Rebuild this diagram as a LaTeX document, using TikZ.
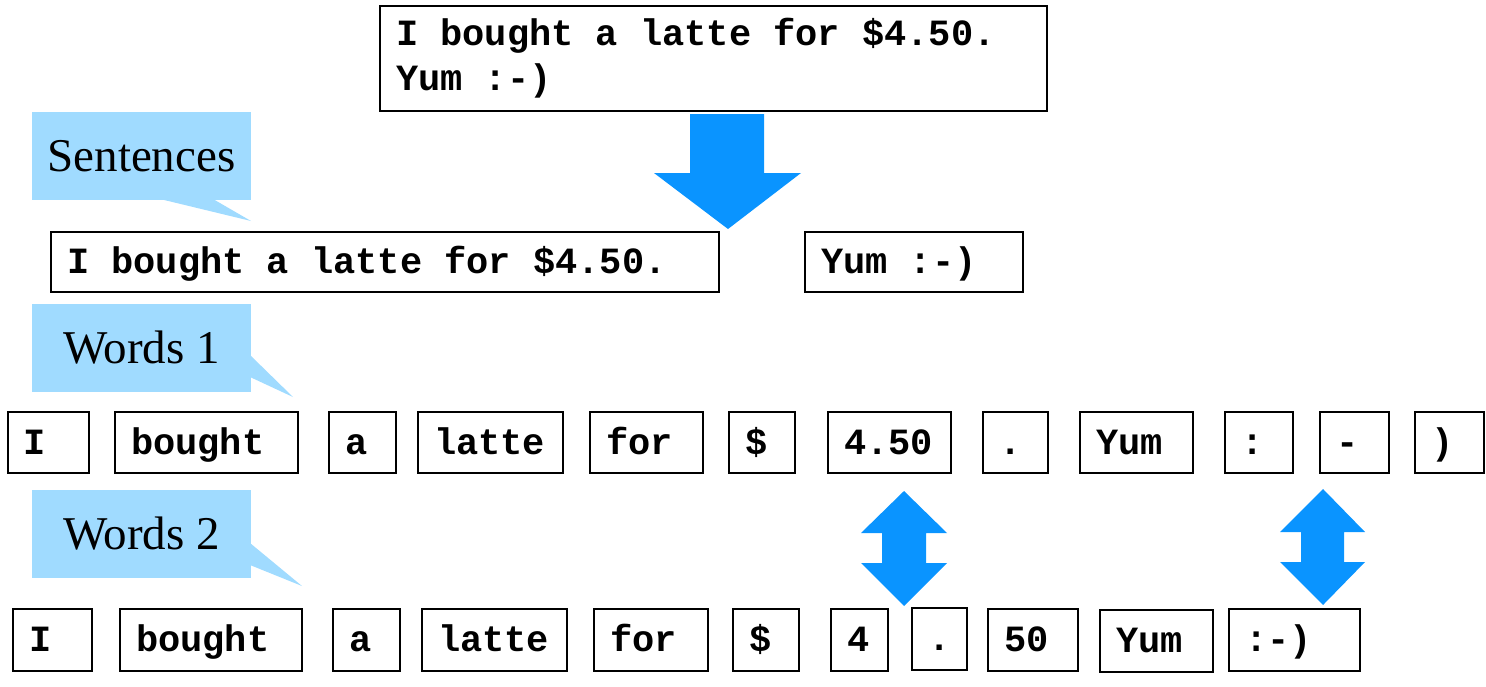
\documentclass[tikz,border=0pt]{standalone}
\usepackage{fontspec}
\setmainfont{Liberation Serif}
\newfontfamily\monofont{Liberation Mono}
\newcommand\monosetup{\monofont\bfseries\fontsize{18.5}{22.5}\selectfont}
\newcommand\fixsp{\spaceskip=0.6em plus 0pt minus 0pt\xspaceskip=0.6em plus 0pt minus 0pt\relax}
\definecolor{arrowblue}{RGB}{10,148,255}
\definecolor{calloutblue}{RGB}{160,219,255}
\begin{document}
\begin{tikzpicture}[x=0.5pt,y=-0.5pt,
  wb/.style={draw=black, line width=1pt, anchor=north west, inner xsep=8pt, inner ysep=0pt,
    align=left, font=\monosetup},
  wbs/.style={wb, text height=15pt, text depth=3.5pt},
  wb1/.style={wbs, minimum height=30.5pt},
  wb2/.style={wbs, minimum height=31pt},
  cbox/.style={fill=calloutblue, minimum width=109.5pt, minimum height=44pt, inner sep=0pt,
    font=\fontsize{23.5}{26}\selectfont},
  ctail/.style={fill=calloutblue},
  bigarrow/.style={fill=arrowblue}
]
\useasboundingbox (0,0) rectangle (1486,686);

% top box
\node[wb, minimum height=52.5pt, text width=317.5pt] (top) at (379,5)
  {\fixsp I bought a latte for \$4.50.\\Yum :-)};

% down arrow
\fill[bigarrow] (690,114) -- (764,114) -- (764,173) -- (801,173) -- (728,229) -- (654,173) -- (690,173) -- cycle;

% Sentences callout
\node[cbox] (csent) at (141.5,156) {Sentences};
\fill[ctail] (160,199) -- (251,221) -- (213,199) -- cycle;

% sentence boxes
\node[wbs, minimum height=30pt, text width=318pt] (s1) at (50,231) {\fixsp I bought a latte for \$4.50.};
\node[wbs, minimum height=30pt, text width=93pt] (s2) at (804,231) {\fixsp Yum :-)};

% Words 1 callout
\node[cbox] (cw1) at (141.5,347.5) {Words 1};
\fill[ctail] (250,355) -- (293,397) -- (250,377) -- cycle;

% Words 1 boxes
\node[wb1, text width=24.5pt] (a1) at (7,411) {I};
\node[wb1, text width=75.5pt] (a2) at (114,411) {bought};
\node[wb1, text width=17.5pt] (a3) at (328,411) {a};
\node[wb1, text width=56.5pt] (a4) at (417,411) {latte};
\node[wb1, text width=40.5pt] (a5) at (589,411) {for};
\node[wb1, text width=17pt] (a6) at (728,411) {\$};
\node[wb1, text width=45.5pt] (a7) at (827,411) {4.50};
\node[wb1, text width=16.5pt] (a8) at (982,411) {.};
\node[wb1, text width=40.5pt] (a9) at (1079,411) {Yum};
\node[wb1, text width=18pt] (a10) at (1224,411) {:};
\node[wb1, text width=18.5pt] (a11) at (1319,411) {-};
\node[wb1, text width=18.5pt] (a12) at (1414,411) {)};

% Words 2 callout
\node[cbox] (cw2) at (141.5,534) {Words 2};
\fill[ctail] (250,543) -- (302,586) -- (250,565) -- cycle;

% double arrows
\fill[bigarrow] (904,491) -- (947,533) -- (926,533) -- (926,563) -- (947,563) -- (904,606)
  -- (861,563) -- (882,563) -- (882,533) -- (861,533) -- cycle;
\fill[bigarrow] (1323,489) -- (1365,532) -- (1344,532) -- (1344,562) -- (1365,562) -- (1323,605)
  -- (1280,562) -- (1301,562) -- (1301,532) -- (1280,532) -- cycle;

% Words 2 boxes
\node[wb2, text width=23.5pt] (b1) at (12,608) {I};
\node[wb2, text width=75pt] (b2) at (119,608) {bought};
\node[wb2, text width=17.5pt] (b3) at (332,608) {a};
\node[wb2, text width=56.5pt] (b4) at (421,608) {latte};
\node[wb2, text width=41pt] (b5) at (593,608) {for};
\node[wb2, text width=17pt] (b6) at (732,608) {\$};
\node[wb2, text width=12.5pt] (b7) at (830,608) {4};
\node[wb2, text width=11.5pt] (b8) at (911,607) {.};
\node[wb2, text width=29pt] (b9) at (987,608) {50};
\node[wb2, text width=40.5pt] (b10) at (1099,609) {Yum};
\node[wb2, text width=49.5pt] (b11) at (1228,608) {\fixsp :-)};
\end{tikzpicture}
\end{document}
